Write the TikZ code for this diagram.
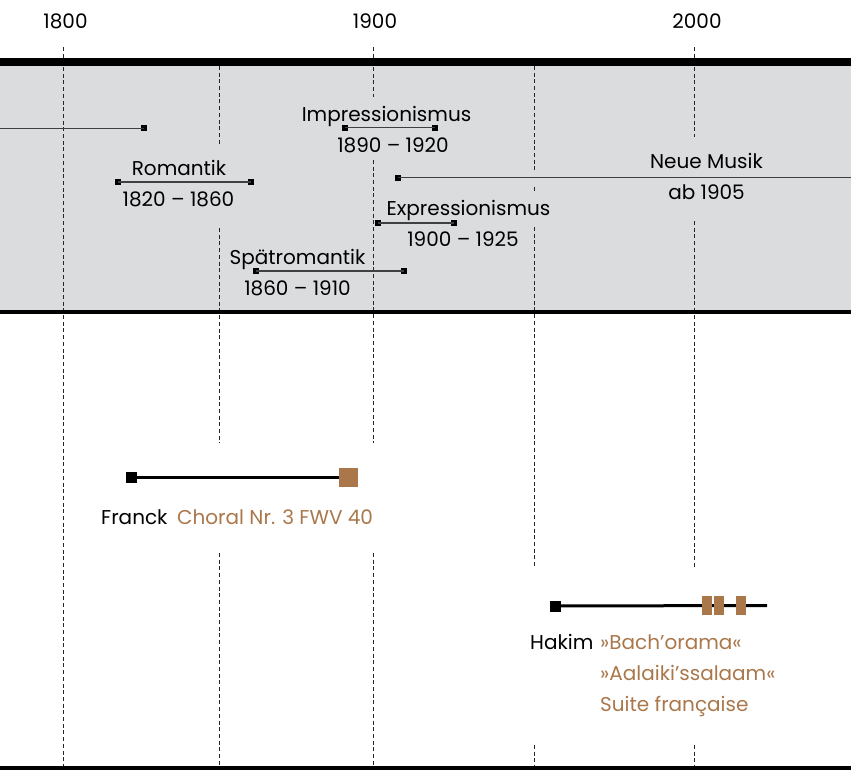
\documentclass[tikz,border=0pt]{standalone}
\usepackage{fontspec}
\setmainfont{Poppins}
\definecolor{bandgray}{HTML}{DBDCDE}
\definecolor{opusbrown}{HTML}{AA774B}
\definecolor{epochgray}{HTML}{404040}
\begin{document}
\begin{tikzpicture}[x=1pt, y=-1pt]
		\tikzset{dot/.style={rectangle, fill=black, inner sep=0pt, minimum size=6pt}};
		\tikzset{lifedot/.style={rectangle, fill=black, inner sep=0pt, minimum size=11pt}};
		\tikzset{opusdot/.style={rectangle, fill=opusbrown, inner sep=0pt, minimum width=10pt, minimum height=19pt}};
		\tikzset{epoch/.style={draw=epochgray, line width=1.6pt}};
		\tikzset{life/.style={draw=black, line width=3pt}};
		\tikzset{gridline/.style={draw=black!85, line width=0.9pt, dash pattern=on 4pt off 2.7pt}};
		\tikzset{lbl/.style={anchor=base, inner sep=0pt, font=\fontsize{20}{24}\selectfont}};
		\tikzset{lblw/.style={lbl, anchor=base west}};
		\tikzset{opus/.style={lblw, text=opusbrown}};

		\useasboundingbox (0,0) rectangle (851,770);

		\fill[bandgray] (0,62) rectangle (851,312);

		\foreach \gx/\ya/\yb in {63/47/767, 219/66/146, 219/228/443, 219/553/767,
				373/47/97, 373/160/443, 373/553/767,
				534/66/170, 534/187/192, 534/227/568, 534/745/767,
				694/47/137, 694/221/568, 694/745/767}
			\draw[gridline] (\gx,\ya) -- (\gx,\yb);

		\draw[line width=8pt] (0,62) -- (851,62);
		\draw[line width=4.5pt] (0,312) -- (851,312);
		\draw[line width=5pt] (0,768) -- (851,768);

		\node[lbl] (y1800) at (65.5,29) {1800};
		\node[lbl] (y1900) at (375,29) {1900};
		\node[lbl] (y2000) at (697,29) {2000};

		\coordinate (klass-s) at (0,128.5);
		\node[dot] (klass-e) at (144,128.5) {};

		\node[dot] (rom-s) at (118,182) {};
		\node[dot] (rom-e) at (251,182) {};
		\node[lbl] (rom-name) at (179,176) {Romantik};
		\node[lbl] (rom-date) at (178.5,207) {1820 – 1860};

		\node[dot] (spr-s) at (256,270.7) {};
		\node[dot] (spr-e) at (404,270.7) {};
		\node[lbl] (spr-name) at (297.5,264) {Spätromantik};
		\node[lbl] (spr-date) at (297.5,295) {1860 – 1910};

		\node[dot] (imp-s) at (345,127.7) {};
		\node[dot] (imp-e) at (435,127.7) {};
		\node[lbl] (imp-name) at (386.5,122) {Impressionismus};
		\node[lbl] (imp-date) at (393,153) {1890 – 1920};

		\node[dot] (exp-s) at (378,222.7) {};
		\node[dot] (exp-e) at (454,222.7) {};
		\node[lbl] (exp-name) at (468.5,215) {Expressionismus};
		\node[lbl] (exp-date) at (463,246) {1900 – 1925};

		\node[dot] (neu-s) at (398,177.7) {};
		\coordinate (neu-e) at (851,177.7);
		\node[lbl] (neu-name) at (706.5,169) {Neue Musik};
		\node[lbl] (neu-date) at (706.5,200) {ab 1905};

		\draw[epoch] (klass-s) to (klass-e.center);
		\draw[epoch] (rom-s.center) to (rom-e.center);
		\draw[epoch] (spr-s.center) to (spr-e.center);
		\draw[epoch] (imp-s.center) to (imp-e.center);
		\draw[epoch] (exp-s.center) to (exp-e.center);
		\draw[epoch] (neu-s.center) to (neu-e);

		\node[lifedot] (franck-s) at (131.5,477.5) {};
		\node[opusdot, minimum width=19pt] (franck-o) at (348.5,477.5) {};
		\draw[life] (franck-s) to (franck-o);
		\node[lblw] (franck-name) at (101,524) {Franck};
		\node[opus] (franck-op) at (177,524) {Choral Nr. 3 FWV 40};

		\node[lifedot] (hakim-s) at (555.5,606) {};
		\coordinate (hakim-e) at (767,605.5);
		\draw[life] (hakim-s) to (hakim-e);
		\node[opusdot] (hakim-o1) at (707,605.5) {};
		\node[opusdot] (hakim-o2) at (719,605.5) {};
		\node[opusdot] (hakim-o3) at (741,605.5) {};
		\node[lblw] (hakim-name) at (530,649) {Hakim};
		\node[opus] (hakim-op1) at (600,649) {»Bach’orama«};
		\node[opus] (hakim-op2) at (600,680) {»Aalaiki’ssalaam«};
		\node[opus] (hakim-op3) at (600,711) {Suite française};
	\end{tikzpicture}
\end{document}
